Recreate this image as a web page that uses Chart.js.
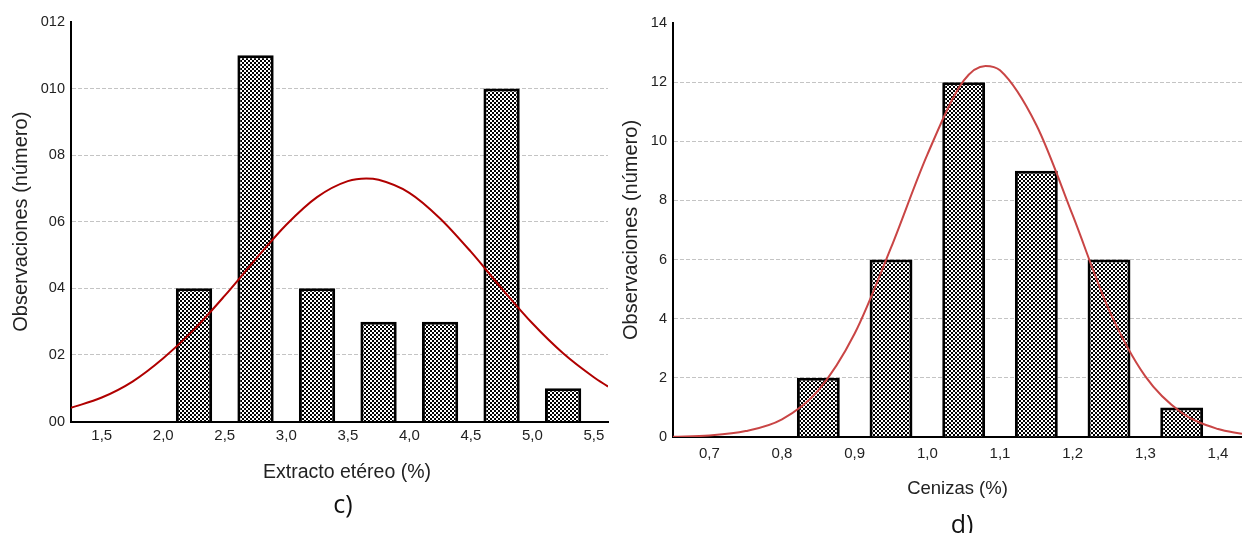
<!DOCTYPE html>
<html>
<head>
<meta charset="utf-8">
<script src="https://cdn.jsdelivr.net/npm/chart.js@4.4.1/dist/chart.umd.min.js"></script>
<style>
  html, body { margin: 0; padding: 0; background: #fff; }
  body { width: 1242px; height: 533px; position: relative; overflow: hidden; }
  .box { position: absolute; top: 0; }
  .lab { position: absolute; font-family: "Open Sans", sans-serif; font-size: 25px; line-height: 25px; color: #111; white-space: nowrap; }
  .xt { position: absolute; font-family: 'Liberation Sans', Arial, sans-serif; font-size: 19.5px; line-height: 20px; color: #222; white-space: nowrap; }
</style>
</head>
<body>
<div class="box" style="left:0;width:615px;height:533px;"><canvas id="c1" width="615" height="533"></canvas></div>
<div class="box" style="left:615px;width:627px;height:533px;"><canvas id="c2" width="627" height="533"></canvas></div>
<div class="xt" id="xtC" style="left:347px;top:461px;transform:translateX(-50%);"></div>
<div class="lab" id="labC" style="left:343px;top:491px;transform:translateX(-50%);">c)</div>
<div class="lab" id="labD" style="left:962px;top:511px;transform:translateX(-50%);">d)</div>
<script>
// ---- Panel c) Extracto etéreo ----
const binsC = [2.25, 2.75, 3.25, 3.75, 4.25, 4.75, 5.25];
const countsC = [4, 11, 4, 3, 3, 10, 1];
const curveXC = [1.25, 1.5, 1.75, 2.0, 2.25, 2.5, 2.75, 3.0, 3.25, 3.5, 3.65, 3.75, 4.0, 4.25, 4.5, 4.75, 5.0, 5.25, 5.5, 5.615];
const curveYC = [0.41, 0.72, 1.20, 1.90, 2.76, 3.78, 4.87, 5.91, 6.74, 7.22, 7.30, 7.26, 6.87, 6.10, 5.10, 4.00, 2.95, 2.05, 1.33, 1.05];
const xTicksC = [1.5, 2.0, 2.5, 3.0, 3.5, 4.0, 4.5, 5.0, 5.5];
const yTickLabelsC = ['00', '02', '04', '06', '08', '010', '012'];
const xTitleC = 'Extracto etéreo (%)';

// ---- Panel d) Cenizas ----
const binsD = [0.85, 0.95, 1.05, 1.15, 1.25, 1.35];
const countsD = [2, 6, 12, 9, 6, 1];
const curveXD = [0.65, 0.70, 0.75, 0.80, 0.85, 0.90, 0.95, 1.00, 1.05, 1.08, 1.10, 1.15, 1.20, 1.25, 1.30, 1.35, 1.40, 1.433];
const curveYD = [0.01, 0.05, 0.20, 0.60, 1.58, 3.50, 6.40, 9.55, 12.05, 12.55, 12.40, 10.55, 7.50, 4.30, 2.05, 0.82, 0.27, 0.11];
const xTicksD = [0.7, 0.8, 0.9, 1.0, 1.1, 1.2, 1.3, 1.4];
const yTickLabelsD = ['0', '2', '4', '6', '8', '10', '12', '14'];
const xTitleD = 'Cenizas (%)';

const yTitle = 'Observaciones (número)';
const FONT = "'Liberation Sans', Arial, sans-serif";

document.getElementById('xtC').textContent = xTitleC;

function checker() {
  const c = document.createElement('canvas');
  c.width = 4; c.height = 4;
  const x = c.getContext('2d');
  x.fillStyle = '#fff'; x.fillRect(0, 0, 4, 4);
  x.fillStyle = '#000'; x.fillRect(0, 0, 2, 2); x.fillRect(2, 2, 2, 2);
  return x.createPattern(c, 'repeat');
}

function makeChart(id, cfg) {
  const pattern = checker();
  const bars = cfg.bins.map((b, i) => ({ x: b, y: cfg.counts[i] }));
  const curve = cfg.curveX.map((v, i) => ({ x: v, y: cfg.curveY[i] }));
  return new Chart(document.getElementById(id), {
    data: {
      datasets: [
        {
          type: 'line', data: curve, borderColor: cfg.lineColor, borderWidth: cfg.lineWidth,
          pointRadius: 0, cubicInterpolationMode: 'monotone', fill: false, order: 0
        },
        {
          type: 'bar', data: bars, backgroundColor: pattern, borderColor: '#000',
          borderWidth: 3, barPercentage: 0.59, categoryPercentage: 1, order: 1
        }
      ]
    },
    options: {
      responsive: false, animation: false, devicePixelRatio: 1,
      layout: { padding: { left: 0, top: cfg.top, right: cfg.padRight, bottom: 0 } },
      plugins: { legend: { display: false }, tooltip: { enabled: false } },
      scales: {
        x: {
          type: 'linear', min: cfg.xMin, max: cfg.xMax, offset: false,
          afterFit: s => { s.height = cfg.xHeight; },
          afterBuildTicks: s => { s.ticks = cfg.xTicks.map(v => ({ value: v })); },
          grid: { display: false, drawTicks: false, offset: false },
          border: { display: true, color: '#000', width: 2 },
          ticks: {
            autoSkip: false, maxRotation: 0, padding: cfg.xTickPad, color: '#222',
            font: { family: FONT, size: 15 },
            callback: v => Number(v).toFixed(1).replace('.', ',')
          },
          title: {
            display: cfg.xTitle !== null, text: cfg.xTitle || '', color: '#222',
            font: { family: FONT, size: cfg.xTitleSize }, padding: { top: 0, bottom: cfg.xTitlePad }
          }
        },
        y: {
          type: 'linear', min: 0, max: cfg.yMax,
          afterFit: s => { s.width = cfg.yWidth; },
          grid: {
            drawTicks: false, lineWidth: 1,
            color: c => (c.tick && (c.tick.value === 0 || c.tick.value === cfg.yMax)) ? 'rgba(0,0,0,0)' : '#c4c4c4'
          },
          border: { display: true, color: '#000', width: 2, dash: [4, 2] },
          ticks: {
            stepSize: 2, padding: 6, color: '#222', font: { family: FONT, size: 14.5 },
            callback: (v, i) => cfg.yLabels[i]
          },
          title: {
            display: true, text: yTitle, color: '#222',
            font: { family: FONT, size: 20 }, padding: { top: cfg.yTitlePad, bottom: 0 }
          }
        }
      }
    }
  });
}

makeChart('c1', {
  bins: binsC, counts: countsC, curveX: curveXC, curveY: curveYC,
  xTicks: xTicksC, yLabels: yTickLabelsC, xTitle: null,
  lineColor: '#b00000', lineWidth: 2,
  xMin: 1.25, xMax: 5.615, yMax: 12,
  top: 22, padRight: 7, xHeight: 111.5, yWidth: 71,
  xTickPad: 5, xTitleSize: 19.5, xTitlePad: 50, yTitlePad: 9
});

makeChart('c2', {
  bins: binsD, counts: countsD, curveX: curveXD, curveY: curveYD,
  xTicks: xTicksD, yLabels: yTickLabelsD, xTitle: xTitleD,
  lineColor: '#c94545', lineWidth: 2,
  xMin: 0.65, xMax: 1.433, yMax: 14,
  top: 23, padRight: 0, xHeight: 96, yWidth: 58,
  xTickPad: 8, xTitleSize: 18.5, xTitlePad: 33, yTitlePad: 4
});
</script>
</body>
</html>
